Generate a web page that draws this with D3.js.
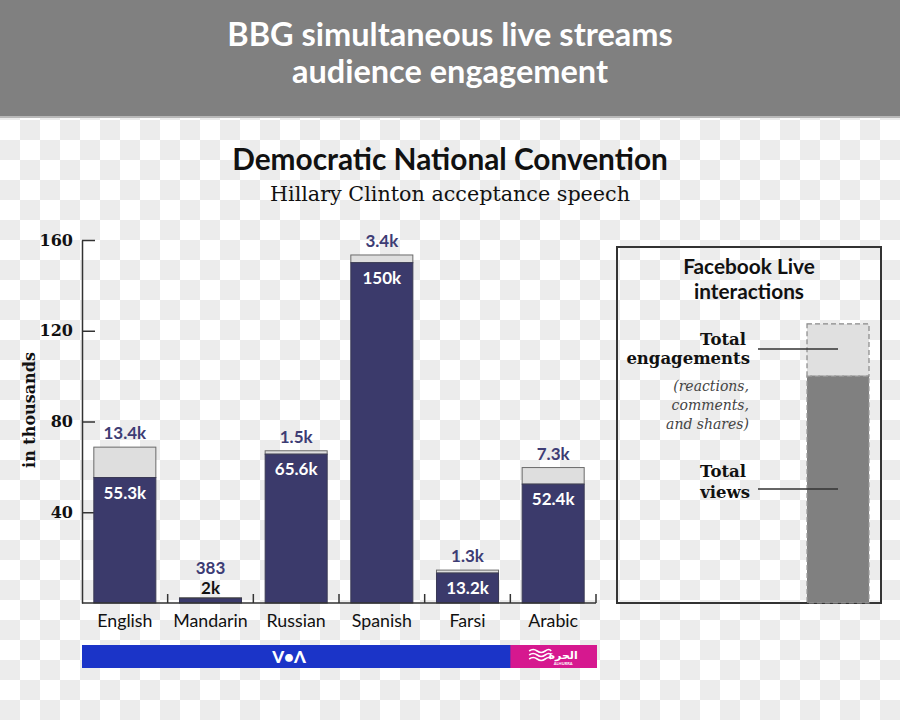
<!DOCTYPE html>
<html>
<head>
<meta charset="utf-8">
<script src="https://cdn.jsdelivr.net/npm/d3@7"></script>
<style>
  html, body { margin: 0; padding: 0; background: #fff; }
  svg { display: block; }
</style>
</head>
<body>
<script>
// ---- data ----
const categories = ["English", "Mandarin", "Russian", "Spanish", "Farsi", "Arabic"];
const views = [55.3, 2, 65.6, 150, 13.2, 52.4];           // thousands
const engagements = [13.4, 0.383, 1.5, 3.4, 1.3, 7.3];    // thousands
const viewLabels = ["55.3k", "2k", "65.6k", "150k", "13.2k", "52.4k"];
const engLabels = ["13.4k", "383", "1.5k", "3.4k", "1.3k", "7.3k"];
const yTicks = [40, 80, 120, 160];
const networks = ["VOA", "VOA", "VOA", "VOA", "VOA", "Alhurra"];
const legendValues = [100, 23]; // illustrative: views, engagements

const W = 900, H = 720;
const svg = d3.select("body").append("svg").attr("width", W).attr("height", H);

// background checkerboard (transparent area in reference)
const defs = svg.append("defs");
const pat = defs.append("pattern").attr("id", "checker").attr("width", 40).attr("height", 40)
  .attr("patternUnits", "userSpaceOnUse");
pat.append("rect").attr("width", 40).attr("height", 40).attr("fill", "#ffffff");
pat.append("rect").attr("x", 20).attr("y", 0).attr("width", 20).attr("height", 20).attr("fill", "#ececec");
pat.append("rect").attr("x", 0).attr("y", 20).attr("width", 20).attr("height", 20).attr("fill", "#ececec");
svg.append("rect").attr("width", W).attr("height", H).attr("fill", "url(#checker)");

// header
svg.append("rect").attr("x", 0).attr("y", 0).attr("width", W).attr("height", 116).attr("fill", "#808080");
svg.append("rect").attr("x", 0).attr("y", 116).attr("width", W).attr("height", 2).attr("fill", "#b8b8b8");
const titleLines = ["BBG simultaneous live streams", "audience engagement"];
svg.append("g").selectAll("text").data(titleLines).join("text")
  .attr("x", 450).attr("y", (d, i) => 46 + i * 37)
  .attr("text-anchor", "middle")
  .attr("font-family", "Lato, sans-serif").attr("font-weight", 700).attr("font-size", 32.5)
  .attr("fill", "#ffffff").text(d => d);

// chart title
svg.append("text").attr("x", 450).attr("y", 170).attr("text-anchor", "middle")
  .attr("font-family", "Lato, sans-serif").attr("font-weight", 700).attr("font-size", 29.8)
  .attr("fill", "#111").text("Democratic National Convention");
svg.append("text").attr("x", 450).attr("y", 201).attr("text-anchor", "middle")
  .attr("font-family", "'DejaVu Serif', serif").attr("font-size", 20.7)
  .attr("fill", "#111").text("Hillary Clinton acceptance speech");

// scales
const x = d3.scaleBand().domain(categories).range([82, 596]).paddingInner(0.276).paddingOuter(0.138);
const y = d3.scaleLinear().domain([0, 160]).range([603, 240]);
const step = x.step();

// y axis
const yAxis = d3.axisLeft(y).tickValues(yTicks).tickSize(-13).tickSizeOuter(0).tickPadding(9)
  .tickFormat(d3.format("d"));
const gy = svg.append("g").attr("transform", "translate(82,0)").call(yAxis);
gy.select(".domain").attr("stroke", "#333").attr("stroke-width", 1.5);
gy.selectAll(".tick line").attr("stroke", "#333").attr("stroke-width", 1.5);
gy.selectAll(".tick text").attr("font-family", "'DejaVu Serif', serif").attr("font-weight", 700)
  .attr("font-size", 16).attr("fill", "#111");

svg.append("text").attr("transform", "translate(35,410) rotate(-90)").attr("text-anchor", "middle")
  .attr("font-family", "'DejaVu Serif', serif").attr("font-weight", 700).attr("font-size", 16)
  .attr("fill", "#111").text("in thousands");

// bars
const rows = categories.map((c, i) => ({ c, v: views[i], e: engagements[i], vl: viewLabels[i], el: engLabels[i], net: networks[i] }));
const gb = svg.append("g");
gb.selectAll("rect.eng").data(rows).join("rect").attr("class", "eng")
  .attr("x", d => x(d.c)).attr("width", x.bandwidth())
  .attr("y", d => y(d.v + d.e)).attr("height", d => y(d.v) - y(d.v + d.e))
  .attr("fill", "#dedede").attr("stroke", "#6a6a6a").attr("stroke-width", 1);
gb.selectAll("rect.view").data(rows).join("rect").attr("class", "view")
  .attr("x", d => x(d.c)).attr("width", x.bandwidth())
  .attr("y", d => y(d.v)).attr("height", d => y(0) - y(d.v))
  .attr("fill", "#3b3a6b").attr("stroke", "#3a3a55").attr("stroke-width", 1);

// x axis baseline + boundary ticks
svg.append("line").attr("x1", 82).attr("x2", 596).attr("y1", 603).attr("y2", 603)
  .attr("stroke", "#333").attr("stroke-width", 1.5);
svg.append("g").selectAll("line").data(categories).join("line")
  .attr("x1", d => x(d) + x.bandwidth() + step * x.paddingInner() / 2)
  .attr("x2", d => x(d) + x.bandwidth() + step * x.paddingInner() / 2)
  .attr("y1", 603).attr("y2", 594).attr("stroke", "#333").attr("stroke-width", 1.5);

// labels
const tiny = d => (y(0) - y(d.v)) < 25;
svg.append("g").selectAll("text").data(rows).join("text")
  .attr("x", d => x(d.c) + x.bandwidth() / 2)
  .attr("y", d => tiny(d) && d.v < 5 ? 594 : y(d.v) + 21)
  .attr("text-anchor", "middle").attr("font-family", "Lato, sans-serif").attr("font-weight", 700)
  .attr("font-size", 17).attr("fill", d => (tiny(d) && d.v < 5) ? "#111" : "#ffffff").text(d => d.vl);
svg.append("g").selectAll("text").data(rows).join("text")
  .attr("x", d => x(d.c) + x.bandwidth() / 2)
  .attr("y", d => d.v < 5 ? 574 : y(d.v + d.e) - 8)
  .attr("text-anchor", "middle").attr("font-family", "Lato, sans-serif").attr("font-weight", 700)
  .attr("font-size", 17).attr("fill", "#3d3c74").text(d => d.el);

// category labels
svg.append("g").selectAll("text").data(categories).join("text")
  .attr("x", d => x(d) + x.bandwidth() / 2).attr("y", 627)
  .attr("text-anchor", "middle").attr("font-family", "Lato, sans-serif").attr("font-size", 17.8)
  .attr("fill", "#111").text(d => d);

// network bars
const netGroups = d3.groups(rows, d => d.net).map(([name, rs]) => ({
  name,
  x0: x(rs[0].c) - step * x.paddingInner() / 2 - (rs[0].c === categories[0] ? step * x.paddingOuter() - step * x.paddingInner() / 2 : 0),
  x1: x(rs[rs.length - 1].c) + x.bandwidth() + step * x.paddingInner() / 2
}));
const netColor = { VOA: "#1b34c8", Alhurra: "#d6188f" };
const gn = svg.append("g");
gn.selectAll("rect").data(netGroups).join("rect")
  .attr("x", d => Math.max(81, d.x0)).attr("width", d => d.x1 + 1 - Math.max(81, d.x0))
  .attr("y", 645).attr("height", 23).attr("fill", d => netColor[d.name]);
// VOA logo
gn.append("text").attr("x", 289).attr("y", 663).attr("text-anchor", "middle")
  .attr("font-family", "Lato, sans-serif").attr("font-weight", 900).attr("font-size", 17)
  .attr("fill", "#fff").text("V•Λ");
// Alhurra logo
const alh = netGroups.find(d => d.name === "Alhurra");
const ax = (alh.x0 + alh.x1) / 2;
const waves = gn.append("g").attr("fill", "none").attr("stroke", "#fff").attr("stroke-width", 1.6);
[0, 4, 8].forEach(o => {
  waves.append("path").attr("d", `M${ax - 24},${651 + o} q4,-3 8,0 t8,0 t6,0`);
});
gn.append("text").attr("x", ax + 10).attr("y", 659).attr("text-anchor", "middle")
  .attr("font-family", "'DejaVu Sans', sans-serif").attr("font-weight", 700).attr("font-size", 11)
  .attr("fill", "#fff").text("الحرة");
gn.append("text").attr("x", ax + 10).attr("y", 665).attr("text-anchor", "middle")
  .attr("font-family", "Lato, sans-serif").attr("font-weight", 700).attr("font-size", 4)
  .attr("fill", "#fff").text("ALHURRA");

// Facebook Live legend box
const lg = svg.append("g");
lg.append("rect").attr("x", 617).attr("y", 247).attr("width", 264).attr("height", 356)
  .attr("fill", "none").attr("stroke", "#333").attr("stroke-width", 2);
lg.selectAll("text.t").data(["Facebook Live", "interactions"]).join("text").attr("class", "t")
  .attr("x", 749).attr("y", (d, i) => 274 + i * 25).attr("text-anchor", "middle")
  .attr("font-family", "Lato, sans-serif").attr("font-weight", 700).attr("font-size", 20.8)
  .attr("fill", "#111").text(d => d);
const lv = legendValues[0], le = legendValues[1];
lg.append("rect").attr("x", 807).attr("width", 62).attr("y", y(lv + le)).attr("height", y(lv) - y(lv + le))
  .attr("fill", "#e0e0e0").attr("stroke", "#888").attr("stroke-width", 1.2).attr("stroke-dasharray", "5,3");
lg.append("rect").attr("x", 807).attr("width", 62).attr("y", y(lv)).attr("height", y(0) - y(lv))
  .attr("fill", "#808080").attr("stroke", "#999").attr("stroke-width", 1.2).attr("stroke-dasharray", "5,3");
const serifB = sel => sel.attr("font-family", "'DejaVu Serif', serif").attr("font-weight", 700)
  .attr("font-size", 16.5).attr("fill", "#111").attr("text-anchor", "end");
serifB(lg.append("text").attr("x", 746).attr("y", 345).text("Total"));
serifB(lg.append("text").attr("x", 750).attr("y", 364).text("engagements"));
lg.selectAll("text.it").data(["(reactions,", "comments,", "and shares)"]).join("text").attr("class", "it")
  .attr("x", 749).attr("y", (d, i) => 391 + i * 19).attr("text-anchor", "end")
  .attr("font-family", "'DejaVu Serif', serif").attr("font-style", "italic").attr("font-size", 14)
  .attr("fill", "#444").text(d => d);
serifB(lg.append("text").attr("x", 746).attr("y", 477).text("Total"));
serifB(lg.append("text").attr("x", 750).attr("y", 498).text("views"));
lg.append("line").attr("x1", 758).attr("x2", 838).attr("y1", 349).attr("y2", 349).attr("stroke", "#333").attr("stroke-width", 1.3);
lg.append("line").attr("x1", 758).attr("x2", 838).attr("y1", 489).attr("y2", 489).attr("stroke", "#333").attr("stroke-width", 1.3);
</script>
</body>
</html>
